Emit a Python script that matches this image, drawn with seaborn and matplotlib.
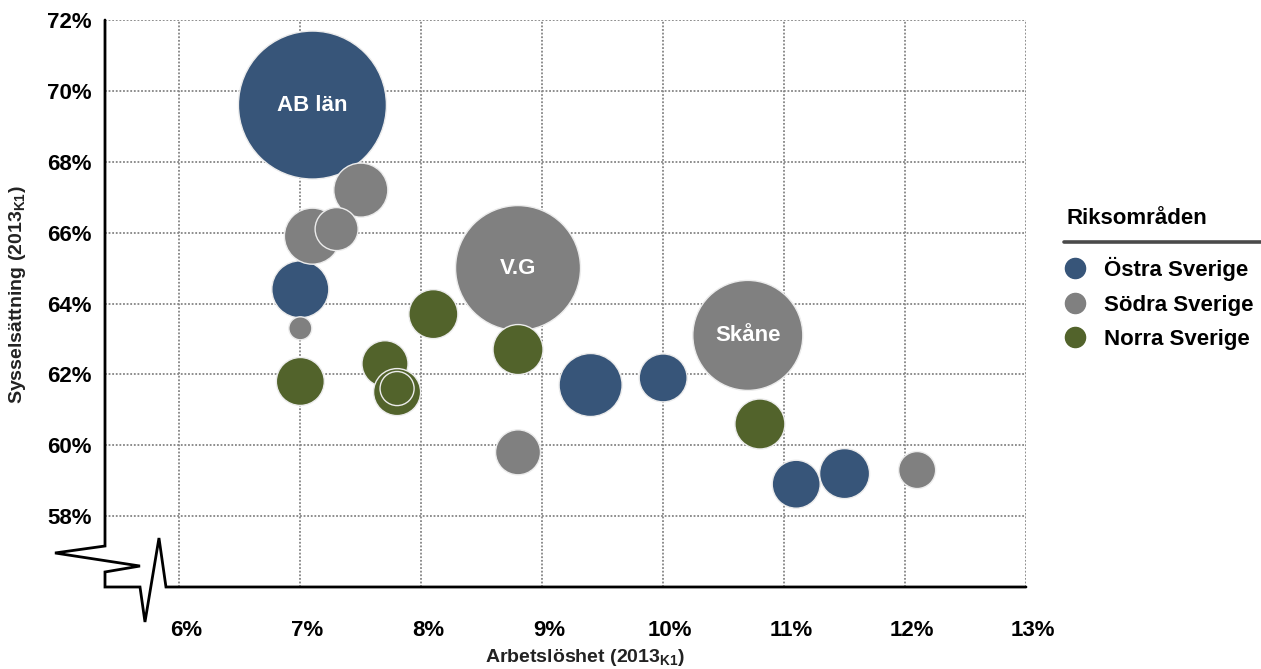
import numpy as np
import pandas as pd
import matplotlib
matplotlib.use("Agg")
import matplotlib.pyplot as plt
import matplotlib.transforms as mtransforms
from matplotlib.lines import Line2D
import seaborn as sns

# ---------------- data ----------------
regions = (["Östra Sverige"] * 6 + ["Södra Sverige"] * 8 + ["Norra Sverige"] * 7)
labels = ["AB län", "", "", "", "", "",
          "V.G", "Skåne", "", "", "", "", "", "",
          "", "", "", "", "", "", ""]
unemployment = [7.1, 7.0, 9.4, 10.0, 11.1, 11.5,
                8.8, 10.7, 7.1, 7.5, 7.3, 7.0, 8.8, 12.1,
                8.1, 8.8, 7.0, 7.7, 7.8, 7.8, 10.8]
employment = [69.6, 64.4, 61.7, 61.9, 58.9, 59.2,
              65.0, 63.1, 65.9, 67.2, 66.1, 63.3, 59.8, 59.3,
              63.7, 62.7, 61.8, 62.3, 61.5, 61.6, 60.6]
population = [2190, 325, 397, 230, 230, 250,
              1562, 1210, 314, 292, 185, 53, 202, 137,
              240, 250, 230, 212, 221, 116, 250]

region_order = ["Östra Sverige", "Södra Sverige", "Norra Sverige"]
region_colors = ["#375579", "#808080", "#52632b"]
x_ticks = [6, 7, 8, 9, 10, 11, 12, 13]
y_ticks = [58, 60, 62, 64, 66, 68, 70, 72]
x_label = r"Arbetslöshet (2013$_{\mathrm{K1}}$)"
y_label = r"Sysselsättning (2013$_{\mathrm{K1}}$)"
legend_title = "Riksområden"

df = pd.DataFrame({"region": regions, "label": labels, "x": unemployment,
                   "y": employment, "pop": population})

# ---------------- style ----------------
sns.set_style("white")
plt.rcParams["font.family"] = ["Liberation Sans", "DejaVu Sans"]
plt.rcParams["font.weight"] = "bold"
plt.rcParams["mathtext.fontset"] = "custom"
plt.rcParams["mathtext.rm"] = "Liberation Sans:bold"
plt.rcParams["mathtext.bf"] = "Liberation Sans:bold"
plt.rcParams["mathtext.it"] = "Liberation Sans:bold"

DPI = 100
fig = plt.figure(figsize=(12.61, 6.69), dpi=DPI)
ax = fig.add_axes([105 / 1261, 1 - 587 / 669, 921 / 1261, 567 / 669])

# area per population unit (points^2)
area_per_unit = 5.184
pmax = max(population)
sns.scatterplot(data=df, x="x", y="y", hue="region", hue_order=region_order,
                palette=region_colors, size="pop", size_norm=(0, pmax),
                sizes=(0, pmax * area_per_unit), edgecolor="#ececec",
                linewidth=1.0, alpha=1.0, legend=False, ax=ax, zorder=3)

for _, r in df.iterrows():
    if r["label"]:
        ax.text(r["x"], r["y"], r["label"], color="white", fontsize=16,
                fontweight="bold", ha="center", va="center", zorder=5)

ax.set_xlim(5.385, 13.0)
ax.set_ylim(56.0, 72.0)
ax.set_xticks(x_ticks)
ax.set_yticks(y_ticks)
ax.set_xticklabels([f"{t}%" for t in x_ticks])
ax.set_yticklabels([f"{t}%" for t in y_ticks])
ax.tick_params(axis="both", length=0, labelsize=16, colors="black")
ax.tick_params(axis="y", pad=9.5)
ax.tick_params(axis="x", pad=24)
for lab in ax.get_xticklabels():
    lab.set_fontweight("bold")
    lab.set_transform(lab.get_transform() +
                      mtransforms.ScaledTranslation(0.07, 0, fig.dpi_scale_trans))
for lab in ax.get_yticklabels():
    lab.set_fontweight("bold")

ax.grid(True, color="#858585", linestyle=(0, (1, 1)), linewidth=1.3)
ax.set_axisbelow(True)
for s in ax.spines.values():
    s.set_visible(False)

# axis lines with break symbols (axes-fraction coordinates)
bx = [0, 0, -0.0543, 0.0380, 0, 0, 0.0380, 0.0434, 0.0586, 0.0662, 1]
by = [1, 0.0723, 0.0600, 0.0370, 0.0265, 0, 0, -0.0617, 0.0864, 0, 0]
ax.add_line(Line2D(bx, by, transform=ax.transAxes, color="black",
                   linewidth=2.0, clip_on=False, zorder=6,
                   solid_joinstyle="miter"))

ax.set_xlabel(x_label, fontsize=14, fontweight="bold", color="#222222")
ax.set_ylabel(y_label, fontsize=14, fontweight="bold", color="#222222")
ax.xaxis.set_label_coords(0.521, -0.125)
ax.xaxis.label.set_va("center")
ax.yaxis.set_label_coords(-0.0945, 0.515)
ax.yaxis.label.set_va("center")

# legend
fig.text(1067 / 1261, 1 - 218 / 669, legend_title, fontsize=16,
         fontweight="bold", ha="left", va="center", color="black")
fig.add_artist(Line2D([1064 / 1261, 1.0], [1 - 242 / 669, 1 - 242 / 669],
                      transform=fig.transFigure, color="#4a4a4a", linewidth=2.6))
handles = [Line2D([], [], marker="o", linestyle="", markersize=14.5,
                  markerfacecolor=c, markeredgecolor=c) for c in region_colors]
leg = fig.legend(handles, region_order, loc="upper left",
                 bbox_to_anchor=(1064 / 1261, 1 - 257 / 669), frameon=False,
                 prop={"size": 16, "weight": "bold"}, handlelength=1.0,
                 handletextpad=0.8, labelspacing=0.61, borderpad=0,
                 borderaxespad=0)
for t in leg.get_texts():
    t.set_color("black")

fig.savefig("out.png", dpi=DPI)
